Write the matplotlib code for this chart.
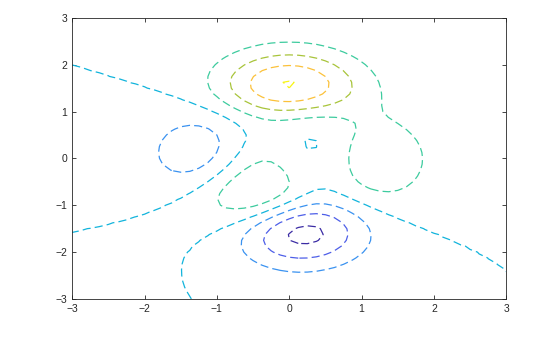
import numpy as np
import matplotlib
matplotlib.use("Agg")
import matplotlib.pyplot as plt

# contour levels and axis ticks
levels = [-6, -4, -2, 0, 2, 4, 6, 8]
xticks = [-3, -2, -1, 0, 1, 2, 3]
yticks = [-3, -2, -1, 0, 1, 2, 3]

# MATLAB peaks surface on a 49x49 grid
x = np.linspace(-3, 3, 49)
y = np.linspace(-3, 3, 49)
X, Y = np.meshgrid(x, y)
Z = (3 * (1 - X) ** 2 * np.exp(-X ** 2 - (Y + 1) ** 2)
     - 10 * (X / 5 - X ** 3 - Y ** 5) * np.exp(-X ** 2 - Y ** 2)
     - 1 / 3 * np.exp(-(X + 1) ** 2 - Y ** 2))

# parula colours picked for each level
level_colors = ['#3b2ca4', '#4d5ee8', '#3a92f0', '#12b4dc',
                '#3dcb9e', '#a8c43a', '#fbc13a', '#f7f515']

plt.rcParams['font.family'] = ['Liberation Sans', 'DejaVu Sans']
fig = plt.figure(figsize=(5.6, 3.37), dpi=100)
ax = fig.add_axes([0.129, 0.113, 0.775, 0.834])

cs = ax.contour(X, Y, Z, levels=levels, colors=level_colors, linewidths=0.9)
cs.set_linestyle((0, (6.5, 3.3)))

ax.set_xlim(-3, 3)
ax.set_ylim(-3, 3)
ax.set_xticks(xticks)
ax.set_yticks(yticks)
ax.tick_params(direction='in', length=3, width=0.6, labelsize=7.5,
               top=True, right=True, colors='#262626')
for s in ax.spines.values():
    s.set_linewidth(0.6)
    s.set_color('#262626')

fig.savefig("out.png", dpi=100)
